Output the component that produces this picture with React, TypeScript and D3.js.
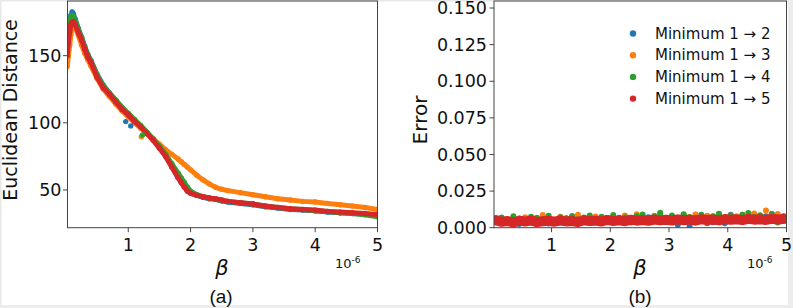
import React from 'react'
import * as d3 from 'd3'

// legend labels and tab10 colours, drawn in this order (red on top)
const seriesNames = ['Minimum 1 → 2', 'Minimum 1 → 3', 'Minimum 1 → 4', 'Minimum 1 → 5']
const colors = ['#1f77b4', '#ff7f0e', '#2ca02c', '#d62728']

// ---- panel (a): Euclidean distance vs beta (x 1e-6)
const betaA = [0.02, 0.04, 0.06, 0.08, 0.1, 0.12, 0.15, 0.2, 0.25, 0.3, 0.35, 0.4, 0.5, 0.6, 0.7, 0.8, 0.9, 1.0, 1.1, 1.2, 1.3, 1.4, 1.5, 1.6, 1.7, 1.8, 1.85, 1.9, 1.95, 2.0, 2.1, 2.2, 2.3, 2.4, 2.5, 2.6, 2.8, 3.0, 3.2, 3.4, 3.6, 3.8, 4.0, 4.2, 4.4, 4.6, 4.8, 5.0]
const distBlue = [155, 166, 174, 180, 182.5, 181, 177, 170, 164, 157, 151, 146.5, 136, 128, 122, 116.5, 111, 106.5, 101.5, 97, 92.5, 87.5, 81.5, 75.5, 67.5, 59.5, 56, 52.5, 49.5, 48, 46, 44.5, 43.5, 43, 42, 41, 40, 39, 37.5, 36.5, 35.5, 35, 34.5, 33.5, 33, 32.5, 32, 31]
const distOrange = [142, 150, 158, 166, 171, 173, 171, 165, 158, 152, 147, 142.5, 133, 125, 119.5, 114, 109, 104.5, 100, 96, 92, 88, 84, 80, 76.5, 73, 71, 69, 67, 65, 61, 57.5, 54.5, 52, 50.5, 49.5, 48, 46.5, 45, 43.5, 42.5, 41.5, 41, 40, 39, 38, 37, 35.5]
const distGreen = [153, 164, 172, 178, 180, 179.5, 176, 169, 163.5, 156.5, 150.5, 146, 135.5, 127.5, 122, 117, 111.5, 107, 102.5, 98, 93, 88, 82.5, 76.5, 69.5, 62.5, 59, 55.5, 52, 49, 46.5, 45, 44, 43, 42, 41.5, 40.5, 39.5, 38, 37, 36, 35.5, 34.5, 34, 33, 32.5, 31.5, 30]
const distRed = [150, 160, 168, 173, 175, 175.5, 173, 167, 162, 155, 149, 145, 134, 126, 121, 115.5, 110, 106, 101, 97, 92, 87, 81, 75, 67, 59, 55.5, 52, 49, 47.5, 46, 45, 44, 43.5, 42.5, 41.5, 40.5, 39.5, 38, 37, 36, 35.5, 35, 34, 33.5, 33, 32.5, 31.5]
const distSeries = [distBlue, distOrange, distGreen, distRed]
// stray points off the main band
const strayBeta = [0.96, 1.04, 1.21, 1.23]
const strayDist = [100.9, 97.7, 89.7, 91]
const strayColor = [0, 0, 1, 2]

// ---- panel (b): error vs beta
const betaB = [0.05, 0.15, 0.25, 0.35, 0.45, 0.55, 0.65, 0.75, 0.85, 0.95, 1.05, 1.15, 1.25, 1.35, 1.45, 1.55, 1.65, 1.75, 1.85, 1.95, 2.05, 2.15, 2.25, 2.35, 2.45, 2.55, 2.65, 2.75, 2.85, 2.95, 3.05, 3.15, 3.25, 3.35, 3.45, 3.55, 3.65, 3.75, 3.85, 3.95, 4.05, 4.15, 4.25, 4.35, 4.45, 4.55, 4.65, 4.75, 4.85, 4.95]
const errBlue = [0.0038, 0.003, 0.0055, 0.0042, 0.0026, 0.005, 0.0035, 0.006, 0.0044, 0.0029, 0.0052, 0.004, 0.0065, 0.0037, 0.0048, 0.0058, 0.0033, 0.0062, 0.0045, 0.0054, 0.0041, 0.0068, 0.0049, 0.0036, 0.0059, 0.0046, 0.0071, 0.0052, 0.0095, 0.0043, 0.0063, 0.002, 0.0056, 0.0012, 0.0067, 0.0048, 0.0074, 0.0038, 0.0061, 0.003, 0.0089, 0.0052, 0.007, 0.0045, 0.0064, 0.0057, 0.0079, 0.0093, 0.006, 0.0068]
const errOrange = [0.006, 0.0045, 0.003, 0.0065, 0.005, 0.0072, 0.004, 0.0068, 0.0087, 0.0055, 0.0048, 0.0074, 0.0061, 0.008, 0.0089, 0.0052, 0.0069, 0.0077, 0.0046, 0.0063, 0.0071, 0.0058, 0.0084, 0.0066, 0.0092, 0.0075, 0.006, 0.0082, 0.007, 0.0065, 0.0079, 0.0062, 0.0087, 0.0073, 0.009, 0.0068, 0.0081, 0.0076, 0.0094, 0.007, 0.0083, 0.0078, 0.0088, 0.0074, 0.0097, 0.008, 0.0118, 0.0085, 0.0093, 0.0079]
const errGreen = [0.0055, 0.007, 0.004, 0.0078, 0.0062, 0.0048, 0.0074, 0.0066, 0.0058, 0.0081, 0.0052, 0.0072, 0.0063, 0.0079, 0.0056, 0.007, 0.0083, 0.006, 0.0075, 0.0067, 0.0086, 0.0058, 0.0072, 0.0064, 0.008, 0.009, 0.0062, 0.0077, 0.0102, 0.0068, 0.0084, 0.0059, 0.0092, 0.0071, 0.0066, 0.0088, 0.003, 0.0079, 0.0096, 0.007, 0.0082, 0.0062, 0.0089, 0.01, 0.0073, 0.0085, 0.0068, 0.0092, 0.0035, 0.0078]
const errRed = [0.0052, 0.004, 0.0046, 0.0035, 0.0048, 0.0042, 0.005, 0.0038, 0.0044, 0.0047, 0.0041, 0.0049, 0.0043, 0.0046, 0.0039, 0.0051, 0.0045, 0.0048, 0.0042, 0.0053, 0.0046, 0.005, 0.0044, 0.0055, 0.0048, 0.0052, 0.0047, 0.0056, 0.005, 0.0054, 0.0049, 0.0057, 0.0051, 0.0055, 0.0048, 0.0058, 0.0053, 0.0056, 0.005, 0.0059, 0.0054, 0.0057, 0.0052, 0.006, 0.0055, 0.0058, 0.0053, 0.0061, 0.0056, 0.0059]
const errSeries = [errBlue, errOrange, errGreen, errRed]

const xTicks = [1, 2, 3, 4, 5]
const distTicks = [50, 100, 150]
const errTicks = [0, 0.025, 0.05, 0.075, 0.1, 0.125, 0.15]

const W = 793
const H = 308
const tickFont = 'DejaVu Sans, sans-serif'
const axisColor = '#444'

function XAxis({ x, y0 }) {
  return (
    <g>
      {xTicks.map((t) => (
        <g key={t} transform={`translate(${x(t)},${y0})`}>
          <line y2={4.5} stroke={axisColor} />
          <text y={23} textAnchor="middle" fontSize={17.5} fontFamily={tickFont} fill="#111">
            {t}
          </text>
        </g>
      ))}
    </g>
  )
}

export default function App() {
  // panel (a)
  const xa = d3.scaleLinear().domain([0.025, 5]).range([67.5, 377.5])
  const ya = d3.scaleLinear().domain([21.9, 190.7]).range([227.7, 1])
  // panel (b)
  const xb = d3.scaleLinear().domain([0.02, 5]).range([494, 786.5])
  const yb = d3.scaleLinear().domain([0, 0.1548]).range([227.7, 1])

  const lineA = d3
    .line<number>()
    .x((d, i) => xa(betaA[i]))
    .y((d) => ya(d))
  const lineB = d3
    .line<number>()
    .x((d, i) => xb(betaB[i]))
    .y((d) => yb(d))

  return (
    <svg width={W} height={H} style={{ position: 'absolute', left: 0, top: 0, background: '#fff' }}>
      {/* light frame around the picture */}
      <rect x={0} y={0} width={W} height={1.5} fill="#e8e8e8" />
      <rect x={0} y={0} width={1.5} height={H} fill="#e8e8e8" />
      <rect x={788} y={0} width={5} height={H} fill="#ececec" />
      <rect x={0} y={305} width={W} height={3} fill="#ececec" />

      <defs>
        <clipPath id="clipA">
          <rect x={67.5} y={1} width={310} height={226.7} />
        </clipPath>
        <clipPath id="clipB">
          <rect x={494} y={1} width={292.5} height={226.7} />
        </clipPath>
      </defs>

      {/* ---------- panel (a) ---------- */}
      <g clipPath="url(#clipA)">
        {distSeries.map((s, k) => (
          <g key={k}>
            <path d={lineA(s)} fill="none" stroke={colors[k]} strokeWidth={5} strokeLinejoin="round" strokeLinecap="round" />
            {s.map((v, i) => (
              <circle key={i} cx={xa(betaA[i])} cy={ya(v)} r={2.7} fill={colors[k]} />
            ))}
          </g>
        ))}
        {strayBeta.map((b, i) => (
          <circle key={i} cx={xa(b)} cy={ya(strayDist[i])} r={2.7} fill={colors[strayColor[i]]} />
        ))}
      </g>
      <rect x={67.5} y={1} width={310} height={226.7} fill="none" stroke={axisColor} strokeWidth={1} />
      {distTicks.map((t) => (
        <g key={t} transform={`translate(67.5,${ya(t)})`}>
          <line x2={-4.5} stroke={axisColor} />
          <text x={-6} dy="0.35em" textAnchor="end" fontSize={17.5} fontFamily={tickFont} fill="#111">
            {t}
          </text>
        </g>
      ))}
      <XAxis x={xa} y0={227.7} />
      <text transform="translate(17,110) rotate(-90)" textAnchor="middle" fontSize={19} fontFamily={tickFont} fill="#111">
        Euclidean Distance
      </text>
      <text x={222} y={275} textAnchor="middle" fontSize={21} fontStyle="italic" fontFamily={tickFont} fill="#111">
        β
      </text>
      <text x={335} y={268} fontSize={13} fontFamily={tickFont} fill="#111">
        10<tspan dy={-5} fontSize={9}>-6</tspan>
      </text>
      <text x={221} y={303} textAnchor="middle" fontSize={19} fontFamily="Liberation Sans, Arial, sans-serif" fill="#111">
        (a)
      </text>

      {/* ---------- panel (b) ---------- */}
      <g clipPath="url(#clipB)">
        {errSeries.map((s, k) => (
          <g key={k}>
            {k === 3 && (
              <path d={lineB(s)} fill="none" stroke={colors[k]} strokeWidth={10} strokeLinejoin="round" strokeLinecap="round" />
            )}
            {s.map((v, i) => (
              <circle key={i} cx={xb(betaB[i])} cy={yb(v)} r={3} fill={colors[k]} />
            ))}
          </g>
        ))}
      </g>
      <rect x={494} y={1} width={292.5} height={226.7} fill="none" stroke={axisColor} strokeWidth={1} />
      {errTicks.map((t) => (
        <g key={t} transform={`translate(494,${yb(t)})`}>
          <line x2={-4.5} stroke={axisColor} />
          <text x={-7} dy="0.35em" textAnchor="end" fontSize={17.5} fontFamily={tickFont} fill="#111">
            {t.toFixed(3)}
          </text>
        </g>
      ))}
      <XAxis x={xb} y0={227.7} />
      <text transform="translate(427,120) rotate(-90)" textAnchor="middle" fontSize={20} fontFamily={tickFont} fill="#111">
        Error
      </text>
      <text x={640} y={275} textAnchor="middle" fontSize={21} fontStyle="italic" fontFamily={tickFont} fill="#111">
        β
      </text>
      <text x={747} y={268} fontSize={13} fontFamily={tickFont} fill="#111">
        10<tspan dy={-5} fontSize={9}>-6</tspan>
      </text>
      <text x={640} y={303} textAnchor="middle" fontSize={19} fontFamily="Liberation Sans, Arial, sans-serif" fill="#111">
        (b)
      </text>

      {/* legend */}
      {seriesNames.map((name, k) => (
        <g key={name} transform={`translate(633,${33.5 + k * 21.7})`}>
          <circle r={3.2} fill={colors[k]} />
          <text x={22} dy="0.35em" fontSize={15} fontFamily={tickFont} fill="#111">
            {name}
          </text>
        </g>
      ))}
    </svg>
  )
}
